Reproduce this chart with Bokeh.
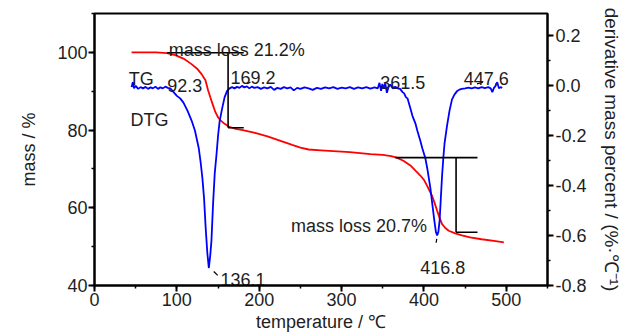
from bokeh.plotting import figure
from bokeh.models import (Range1d, LinearAxis, SingleIntervalTicker,
                          NumeralTickFormatter, ColumnDataSource)
from bokeh.core.properties import value
from bokeh.embed import file_html
from bokeh.resources import INLINE

# ---------------- data ----------------
temp_tg = [45, 60, 75, 88, 98, 108, 117, 124.6, 130, 134.7,
           138, 140.8, 144, 146.8, 150, 153, 158, 163, 170, 180,
           195, 210, 225, 240, 250, 260, 275, 290, 310, 335,
           350, 360, 367, 375, 383.5, 390, 395.6, 400, 403.7, 407,
           409.8, 413, 415.9, 419, 422, 426, 430, 438, 446, 456,
           470, 485, 497]
mass_tg = [100, 100, 100, 99.8, 99.3, 98.4, 97.1, 95.8, 94.4, 92.8,
           90.2, 88.3, 86.3, 84.6, 83.3, 82.5, 81.6, 80.9, 80.4, 80.0,
           79.3, 78.4, 77.3, 76.2, 75.5, 75.0, 74.8, 74.6, 74.3, 73.8,
           73.6, 73.3, 72.9, 72.1, 70.9, 69.5, 68.3, 67.2, 65.7, 64.3,
           63.1, 61.2, 59.3, 57.4, 55.8, 54.8, 54.1, 53.4, 52.9, 52.4,
           51.9, 51.5, 51.1]

temp_dtg = [45, 46.5, 48, 50, 53, 56, 59, 62, 65, 68,
            71, 74, 77, 80, 83, 86, 89, 92, 96, 100,
            104, 108, 113, 118, 122, 126.6, 129, 131, 133, 135,
            137, 138.8, 140.5, 142, 144, 146, 148, 150, 152, 155,
            158, 161, 164, 167, 170, 173, 176, 179, 182, 185,
            188, 191, 194, 198, 202, 206, 210, 214, 218, 222,
            226, 230, 234, 238, 242, 246, 250, 255, 260, 265,
            270, 275, 280, 285, 290, 295, 300, 305, 310, 315,
            320, 325, 330, 335, 340, 344, 346, 348, 349.5, 351,
            353, 355, 357, 359, 362, 365, 368, 371, 374, 376,
            378, 380, 383.5, 386, 389.6, 392, 395.6, 398, 401.7, 404,
            407.8, 410, 412.6, 414.5, 416, 417.5, 419, 420.5, 422, 423.5,
            425, 428, 431, 434, 437, 440, 443, 446, 450, 454,
            458, 462, 466, 470, 474, 478, 481, 483, 485, 487,
            489, 491, 493, 495]
dtg = [-0.005, 0.015, -0.01, 0.0, -0.012, -0.005, -0.01, -0.004, -0.012, -0.006,
       -0.01, -0.003, -0.012, -0.006, -0.01, -0.003, -0.008, -0.01, -0.025, -0.04,
       -0.05, -0.067, -0.1, -0.14, -0.18, -0.25, -0.31, -0.37, -0.45, -0.57,
       -0.67, -0.73, -0.68, -0.62, -0.47, -0.35, -0.28, -0.2, -0.14, -0.09,
       -0.045, -0.02, -0.01, -0.005, -0.01, -0.004, -0.008, 0.0, -0.006, -0.002,
       -0.01, -0.003, -0.008, -0.005, -0.012, -0.006, -0.01, -0.004, -0.016, -0.008,
       -0.012, -0.005, -0.01, -0.006, -0.018, -0.008, -0.012, -0.006, -0.01, -0.016,
       -0.008, -0.012, -0.006, -0.01, -0.005, -0.012, -0.007, -0.01, -0.005, -0.012,
       -0.006, -0.01, -0.005, -0.011, -0.006, -0.01, 0.012, -0.02, 0.008, -0.012,
       0.01, -0.028, -0.005, 0.005, -0.01, -0.004, -0.01, -0.012, -0.025, -0.03,
       -0.045, -0.05, -0.09, -0.12, -0.15, -0.18, -0.22, -0.25, -0.29, -0.33,
       -0.41, -0.47, -0.54, -0.585, -0.6, -0.585, -0.54, -0.45, -0.36, -0.29,
       -0.23, -0.16, -0.1, -0.055, -0.035, -0.022, -0.015, -0.012, -0.01, -0.007,
       -0.01, -0.006, -0.01, -0.005, -0.009, -0.005, -0.01, -0.025, -0.008, 0.0,
       0.015, -0.01, -0.005, -0.008]

# mass-loss brackets (temperature / mass)
brk_x0 = [88.2, 162.2, 162.2, 365.3, 439.0, 439.0]
brk_x1 = [181.2, 162.2, 181.2, 465.0, 439.0, 465.0]
brk_y0 = [99.9, 99.9, 80.6, 72.9, 72.9, 53.7]
brk_y1 = [99.9, 80.6, 80.6, 72.9, 53.7, 53.7]

# small leader marks next to peak labels
lead_x0 = [185.3, 373.4, 464.4, 144.8, 415.5]
lead_x1 = [189.3, 378.6, 471.6, 149.6, 414.8]
lead_y0 = [91.9, 91.9, 91.9, 43.6, 52.0]
lead_y1 = [92.3, 91.9, 92.3, 42.6, 51.0]

ann_text = ["mass loss 21.2%", "TG", "DTG", "92.3", "169.2", "361.5",
            "447.6", "136.1", "416.8", "mass loss 20.7%"]
ann_x = [90.2, 41.7, 43.7, 88.2, 165.0, 347.0, 448.2, 153.0, 395.6, 403.7]
ann_y = [100.7, 93.2, 82.7, 91.5, 93.6, 92.3, 93.2, 41.5, 44.7, 55.4]
ann_align = ["left", "left", "left", "left", "left", "left",
             "left", "left", "left", "right"]

x_ticks_interval = 100
left_ticks_interval = 20
right_ticks_interval = 0.2

FONT = "Liberation Sans"
TXT = "#1e1e1e"
FS = "18px"

# ---------------- figure ----------------
p = figure(width=627, height=336, x_range=Range1d(0, 550), y_range=Range1d(40, 110),
           output_backend="svg", toolbar_location=None,
           min_border_left=94, min_border_right=80, min_border_top=13, min_border_bottom=51)
p.extra_y_ranges = {"dtg": Range1d(-0.8, 0.29)}
p.xgrid.visible = False
p.ygrid.visible = False
p.outline_line_color = "black"
p.outline_line_width = 2
p.outline_line_alpha = 1
p.background_fill_color = "white"
p.border_fill_color = "white"

right = LinearAxis(y_range_name="dtg")
p.add_layout(right, "right")

p.xaxis[0].ticker = SingleIntervalTicker(interval=x_ticks_interval, num_minor_ticks=2)
p.yaxis[0].ticker = SingleIntervalTicker(interval=left_ticks_interval, num_minor_ticks=2)
right.ticker = SingleIntervalTicker(interval=right_ticks_interval, num_minor_ticks=2)
right.formatter = NumeralTickFormatter(format="0.0")

for ax in [p.xaxis[0], p.yaxis[0], right]:
    ax.axis_line_width = 2
    ax.axis_line_color = "black"
    ax.major_tick_line_width = 2
    ax.minor_tick_line_width = 1.5
    ax.major_tick_out = 6
    ax.major_tick_in = 0
    ax.minor_tick_out = 3
    ax.minor_tick_in = 0
    ax.major_label_text_font = FONT
    ax.major_label_text_font_size = FS
    ax.major_label_text_color = TXT
    ax.axis_label_text_font = FONT
    ax.axis_label_text_font_size = "18px"
    ax.axis_label_text_font_style = "normal"
    ax.axis_label_text_color = TXT

p.xaxis[0].major_label_standoff = 1
p.xaxis[0].axis_label = "temperature / ℃"
p.xaxis[0].axis_label_standoff = 3
p.yaxis[0].major_label_standoff = 1
right.major_label_standoff = 2
p.yaxis[0].axis_label = "mass / %"
p.yaxis[0].axis_label_standoff = 15
right.axis_label = "derivative mass percent / (%·℃⁻¹)"
right.axis_label_text_font_size = "19px"
right.axis_label_standoff = 11

# ---------------- data glyphs ----------------
p.line(temp_tg, mass_tg, line_color="#ff0000", line_width=1.8)
p.line(temp_dtg, dtg, line_color="#0000ff", line_width=1.8, y_range_name="dtg")

p.segment(x0=brk_x0, y0=brk_y0, x1=brk_x1, y1=brk_y1, line_color="black", line_width=1.6)
p.segment(x0=lead_x0, y0=lead_y0, x1=lead_x1, y1=lead_y1, line_color="black", line_width=1.2)

src = ColumnDataSource(dict(x=ann_x, y=ann_y, t=ann_text, a=ann_align))
p.text(x="x", y="y", text="t", text_align="a", source=src,
       text_font=value(FONT), text_font_size=FS, text_color=TXT,
       text_baseline="alphabetic")

open("out.html", "w").write(file_html(p, INLINE))
